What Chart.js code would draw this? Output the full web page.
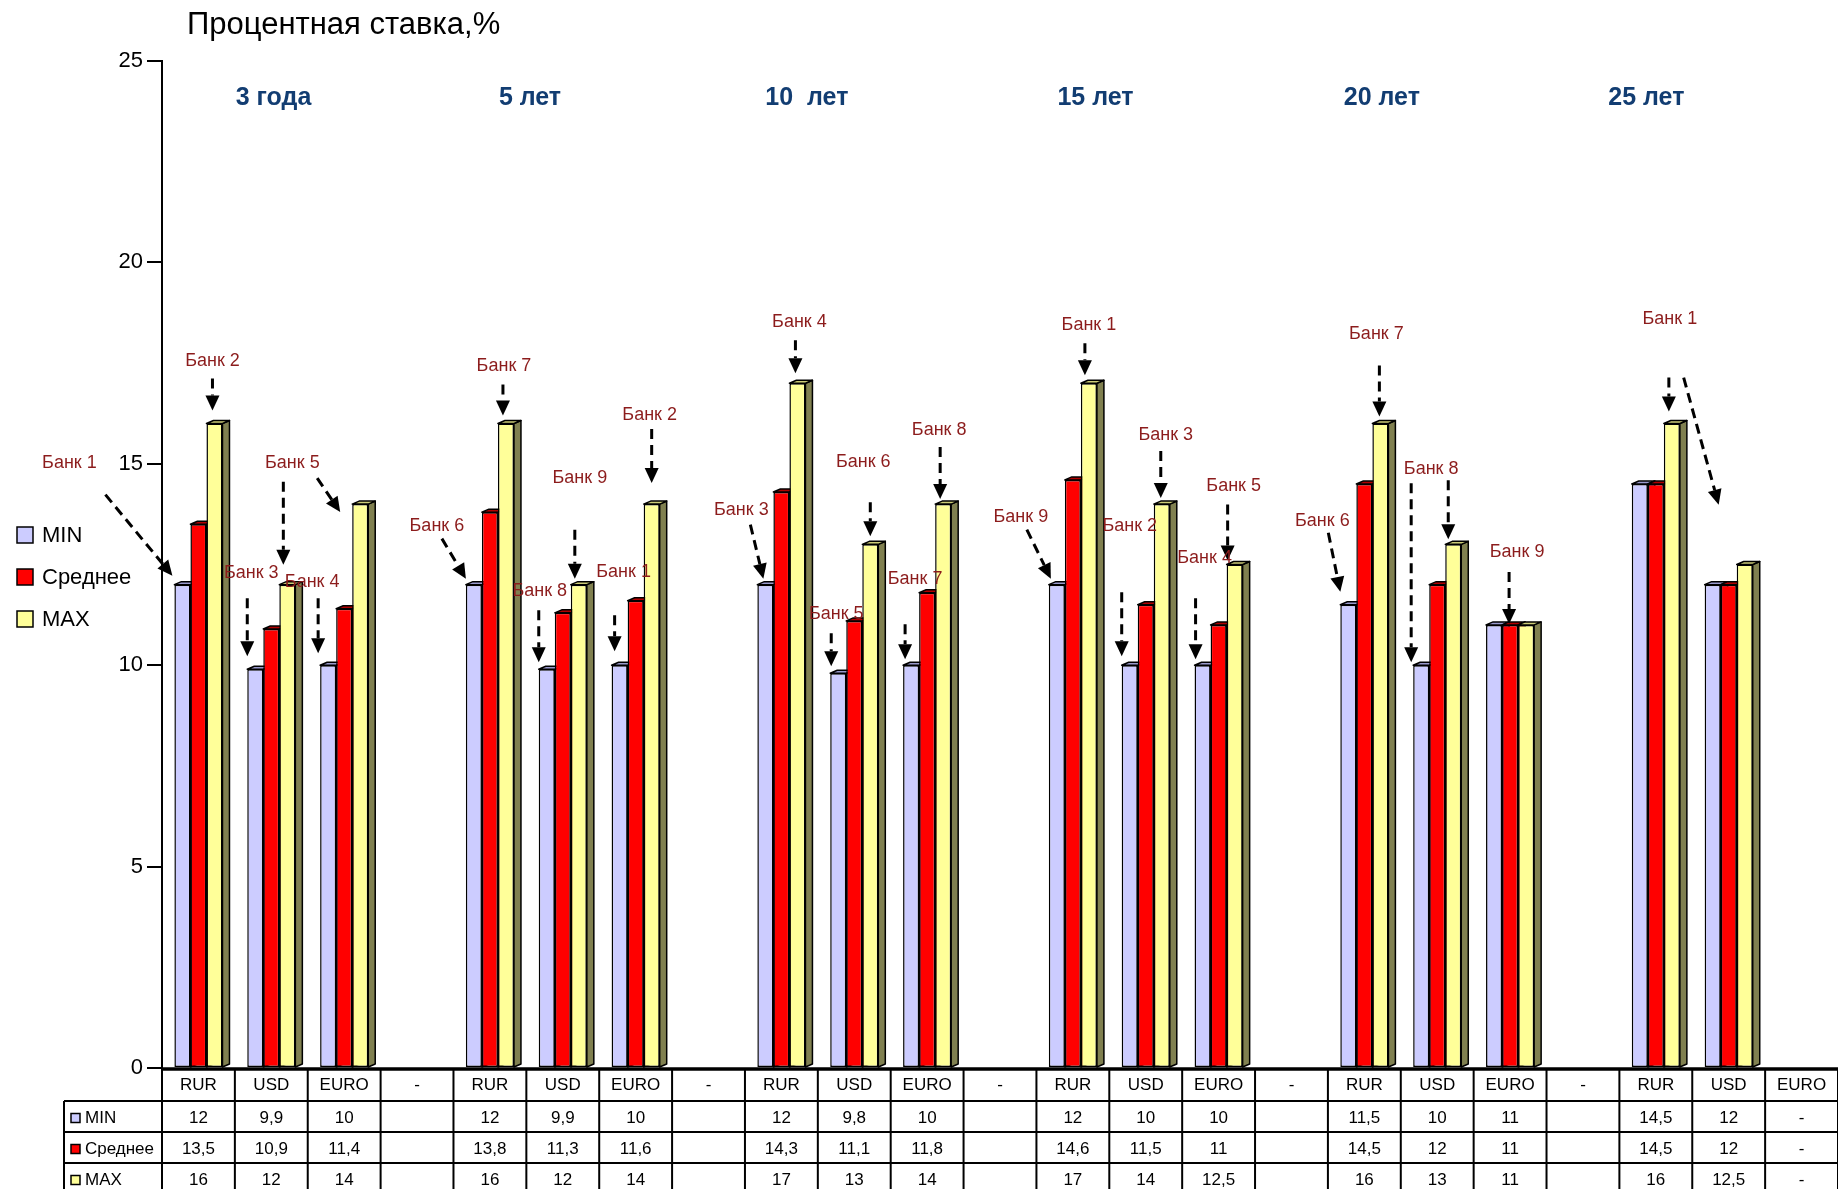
<!DOCTYPE html>
<html lang="ru">
<head>
<meta charset="utf-8">
<title>Процентная ставка</title>
<script src="https://cdn.jsdelivr.net/npm/chart.js@4.4.1/dist/chart.umd.min.js"></script>
<style>
  html, body { margin: 0; padding: 0; background: #fff; }
  #wrap { width: 1838px; height: 1189px; position: relative; }
</style>
</head>
<body>
<div id="wrap"><canvas id="chart"></canvas></div>
<script>
// Данные графика
const categories = ['RUR', 'USD', 'EURO', '-', 'RUR', 'USD', 'EURO', '-', 'RUR', 'USD', 'EURO', '-',
                    'RUR', 'USD', 'EURO', '-', 'RUR', 'USD', 'EURO', '-', 'RUR', 'USD', 'EURO'];
const minValues = [12, 9.9, 10, null, 12, 9.9, 10, null, 12, 9.8, 10, null,
                   12, 10, 10, null, 11.5, 10, 11, null, 14.5, 12, null];
const avgValues = [13.5, 10.9, 11.4, null, 13.8, 11.3, 11.6, null, 14.3, 11.1, 11.8, null,
                   14.6, 11.5, 11, null, 14.5, 12, 11, null, 14.5, 12, null];
const maxValues = [16, 12, 14, null, 16, 12, 14, null, 17, 13, 14, null,
                   17, 14, 12.5, null, 16, 13, 11, null, 16, 12.5, null];
const seriesNames = ['MIN', 'Среднее', 'MAX'];
const yTicks = [0, 5, 10, 15, 20, 25];
const groupTitles = ['3 года', '5 лет', '10  лет', '15 лет', '20 лет', '25 лет'];

// Оформление
const FONT = "'Liberation Sans', Arial, sans-serif";
const seriesStyle = [
    { front: '#CCCCFF', top: '#9999CC', side: '#7777AA' },
    { front: '#FF0000', top: '#B00000', side: '#800000' },
    { front: '#FFFF99', top: '#CCCC77', side: '#808050' }
];
const DEPTH_X = 7, DEPTH_Y = 3;
// положение подписей сроков (в долях категорий)
const groupTitlePos = [1.03, 4.55, 8.35, 12.31, 16.24, 19.87];

// Подписи банков: [текст, категория, ряд, dx, dy] относительно верха столбика
const bankLabels = [
    ['Банк 1', 0, 0, -113, -122], ['Банк 2', 0, 2, -2, -62], ['Банк 3', 1, 0, -4, -96],
    ['Банк 5', 1, 2, 5, -122], ['Банк 4', 2, 0, -16, -83],
    ['Банк 6', 4, 0, -37, -59], ['Банк 7', 4, 2, -2, -57], ['Банк 9', 5, 2, 1, -107],
    ['Банк 8', 5, 0, -7, -78], ['Банк 2', 6, 2, -2, -89], ['Банк 1', 6, 0, 4, -93],
    ['Банк 4', 8, 2, 2, -61], ['Банк 3', 8, 0, -24, -75], ['Банк 6', 9, 2, -7, -82],
    ['Банк 5', 9, 0, -2, -59], ['Банк 8', 10, 2, -4, -74], ['Банк 7', 10, 0, 4, -86],
    ['Банк 1', 12, 2, 0, -58], ['Банк 9', 12, 0, -36, -68], ['Банк 3', 13, 2, 4, -69],
    ['Банк 2', 13, 0, 0, -139], ['Банк 5', 14, 2, -1, -78], ['Банк 4', 14, 0, 2, -107],
    ['Банк 7', 16, 2, -4, -89], ['Банк 6', 16, 0, -26, -84], ['Банк 8', 17, 0, 10, -196],
    ['Банк 9', 18, 1, 7, -73], ['Банк 1', 20, 2, -2, -104]
];
// Стрелки: [категория, ряд, начало dx, dy, конец dx, dy]
const bankArrows = [
    [0, 0, -77, -90, -10, -9], [0, 2, -2, -45, -2, -13], [1, 0, -8, -71, -8, -13],
    [1, 2, -4, -103, -4, -20], [2, 2, -43, -26, -20, 8], [2, 0, -10, -67, -10, -12],
    [4, 0, -32, -46, -8, -6], [4, 2, -3, -39, -3, -8], [5, 2, -4, -55, -4, -6],
    [5, 0, -8, -59, -8, -7], [6, 2, 0, -75, 0, -21], [6, 0, -5, -50, -5, -14],
    [8, 2, -2, -43, -2, -10], [8, 0, -15, -60, -2, -6], [9, 2, 0, -42, 0, -8],
    [9, 0, -7, -40, -7, -7], [10, 2, -3, -57, -3, -5], [10, 0, -6, -41, -6, -6],
    [12, 2, -4, -40, -4, -8], [12, 0, -30, -55, -6, -6], [13, 2, -1, -53, -1, -6],
    [13, 0, -8, -73, -8, -9], [14, 2, -7, -60, -7, -4], [14, 0, -7, -67, -7, -6],
    [16, 2, -1, -58, -1, -7], [16, 0, -20, -72, -8, -13], [17, 0, -10, -182, -10, -3],
    [17, 2, -5, -64, -5, -5], [18, 1, -1, -53, -1, -1], [20, 2, -3, -46, -3, -12],
    [21, 0, -29, -207, 6, -80]
];

function fmt(v) {
    return String(v).replace('.', ',');
}

// Объёмные грани столбиков (рисуются под передними гранями)
const faces3d = {
    id: 'faces3d',
    beforeDatasetsDraw(chart) {
        const ctx = chart.ctx;
        ctx.save();
        ctx.lineWidth = 1.5;
        ctx.strokeStyle = '#000';
        ctx.lineJoin = 'round';
        chart.data.datasets.forEach((ds, di) => {
            chart.getDatasetMeta(di).data.forEach((bar, i) => {
                if (ds.data[i] == null) return;
                const { x, y, base, width } = bar.getProps(['x', 'y', 'base', 'width'], true);
                const l = x - width / 2, r = x + width / 2;
                ctx.beginPath();
                ctx.moveTo(r, base);
                ctx.lineTo(r + DEPTH_X, base - DEPTH_Y);
                ctx.lineTo(r + DEPTH_X, y - DEPTH_Y);
                ctx.lineTo(r, y);
                ctx.closePath();
                ctx.fillStyle = seriesStyle[di].side;
                ctx.fill();
                ctx.stroke();
                ctx.beginPath();
                ctx.moveTo(l, y);
                ctx.lineTo(l + DEPTH_X, y - DEPTH_Y);
                ctx.lineTo(r + DEPTH_X, y - DEPTH_Y);
                ctx.lineTo(r, y);
                ctx.closePath();
                ctx.fillStyle = seriesStyle[di].top;
                ctx.fill();
                ctx.stroke();
            });
        });
        ctx.restore();
    }
};

function drawArrow(ctx, x1, y1, x2, y2) {
    const ang = Math.atan2(y2 - y1, x2 - x1);
    const hl = 15, hw = 7;
    const bx = x2 - hl * Math.cos(ang), by = y2 - hl * Math.sin(ang);
    ctx.setLineDash([10, 6]);
    ctx.beginPath();
    ctx.moveTo(x1, y1);
    ctx.lineTo(bx, by);
    ctx.stroke();
    ctx.setLineDash([]);
    ctx.beginPath();
    ctx.moveTo(x2, y2);
    ctx.lineTo(bx + hw * Math.sin(ang), by - hw * Math.cos(ang));
    ctx.lineTo(bx - hw * Math.sin(ang), by + hw * Math.cos(ang));
    ctx.closePath();
    ctx.fill();
}

// Подписи, стрелки, легенда и таблица
const decor = {
    id: 'decor',
    afterDraw(chart) {
        const ctx = chart.ctx;
        const area = chart.chartArea;
        const xs = chart.scales.x;
        const cw = (area.right - area.left) / categories.length;
        const top = (cat, ds) => chart.getDatasetMeta(ds).data[cat];
        ctx.save();

        // заголовок
        ctx.fillStyle = '#000';
        ctx.font = '31px ' + FONT;
        ctx.textBaseline = 'middle';
        ctx.textAlign = 'left';
        ctx.fillText('Процентная ставка,%', 187, 25);

        // сроки
        ctx.fillStyle = '#123D72';
        ctx.font = 'bold 25px ' + FONT;
        ctx.textAlign = 'center';
        groupTitles.forEach((t, i) => {
            ctx.fillText(t, area.left + cw * (groupTitlePos[i] + 0.5), 98);
        });

        // стрелки
        ctx.strokeStyle = '#000';
        ctx.fillStyle = '#000';
        ctx.lineWidth = 3;
        bankArrows.forEach(([cat, ds, sx, sy, tx, ty]) => {
            const b = top(cat, ds);
            drawArrow(ctx, b.x + sx, b.y + sy, b.x + tx, b.y + ty);
        });

        // банки
        ctx.fillStyle = '#8C1C1C';
        ctx.font = '18px ' + FONT;
        bankLabels.forEach(([t, cat, ds, dx, dy]) => {
            const b = top(cat, ds);
            ctx.fillText(t, b.x + dx, b.y + dy);
        });

        // легенда
        ctx.textAlign = 'left';
        ctx.font = '22px ' + FONT;
        ctx.lineWidth = 1.5;
        seriesNames.forEach((name, i) => {
            const cy = 535 + i * 42;
            ctx.fillStyle = seriesStyle[i].front;
            ctx.fillRect(17, cy - 8, 16, 16);
            ctx.strokeRect(17, cy - 8, 16, 16);
            ctx.fillStyle = '#000';
            ctx.fillText(name, 42, cy + 1);
        });

        // таблица
        const tLeft = 64, right = chart.width;
        const catTop = area.bottom, catBot = catTop + 33;
        const rowH = 31;
        ctx.strokeStyle = '#000';
        ctx.lineWidth = 2;
        ctx.beginPath();
        for (let r = 0; r <= 3; r++) {
            const y = catBot + r * rowH;
            ctx.moveTo(tLeft, y);
            ctx.lineTo(right, y);
        }
        ctx.moveTo(tLeft, catBot);
        ctx.lineTo(tLeft, chart.height);
        for (let i = 0; i <= categories.length; i++) {
            const x = xs.getPixelForValue(0) - cw / 2 + i * cw;
            ctx.moveTo(x, catTop);
            ctx.lineTo(x, chart.height);
        }
        ctx.stroke();
        ctx.lineWidth = 3.5;
        ctx.beginPath();
        ctx.moveTo(area.left, catTop + 1);
        ctx.lineTo(right, catTop + 1);
        ctx.stroke();

        ctx.font = '17px ' + FONT;
        ctx.fillStyle = '#000';
        ctx.textAlign = 'center';
        categories.forEach((c, i) => {
            const x = xs.getPixelForValue(i);
            ctx.fillText(c, x, (catTop + catBot) / 2 + 1);
            chart.data.datasets.forEach((ds, di) => {
                const v = ds.data[i];
                const txt = c === '-' ? '' : (v == null ? '-' : fmt(v));
                ctx.fillText(txt, x, catBot + di * rowH + rowH / 2 + 2);
            });
        });
        ctx.textAlign = 'left';
        ctx.lineWidth = 1.5;
        seriesNames.forEach((name, di) => {
            const cy = catBot + di * rowH + rowH / 2 + 2;
            ctx.fillStyle = seriesStyle[di].front;
            ctx.fillRect(71, cy - 5, 9, 9);
            ctx.strokeRect(71, cy - 5, 9, 9);
            ctx.fillStyle = '#000';
            ctx.fillText(name, 85, cy);
        });
        ctx.restore();
    }
};

const ctx = document.getElementById('chart').getContext('2d');
new Chart(ctx, {
    type: 'bar',
    data: {
        labels: categories,
        datasets: [minValues, avgValues, maxValues].map((values, i) => ({
            label: seriesNames[i],
            data: values,
            backgroundColor: seriesStyle[i].front,
            borderColor: '#000',
            borderWidth: 1.5,
            borderSkipped: false,
            categoryPercentage: 0.66,
            barPercentage: 1.0
        }))
    },
    options: {
        responsive: true,
        maintainAspectRatio: false,
        animation: false,
        layout: { padding: { top: 61, bottom: 121, left: 0, right: 0 } },
        plugins: {
            legend: { display: false },
            tooltip: { enabled: false },
            title: { display: false }
        },
        scales: {
            x: { display: false },
            y: {
                min: 0,
                max: 25,
                afterBuildTicks: (scale) => { scale.ticks = yTicks.map(v => ({ value: v })); },
                afterFit: (scale) => { scale.width = 162; },
                ticks: { color: '#000', padding: 4, font: { family: FONT, size: 22 } },
                grid: { drawOnChartArea: false, drawTicks: true, tickLength: 15, color: '#000', lineWidth: 2 },
                border: { display: true, color: '#000', width: 2 }
            }
        }
    },
    plugins: [faces3d, decor]
});
</script>
</body>
</html>
